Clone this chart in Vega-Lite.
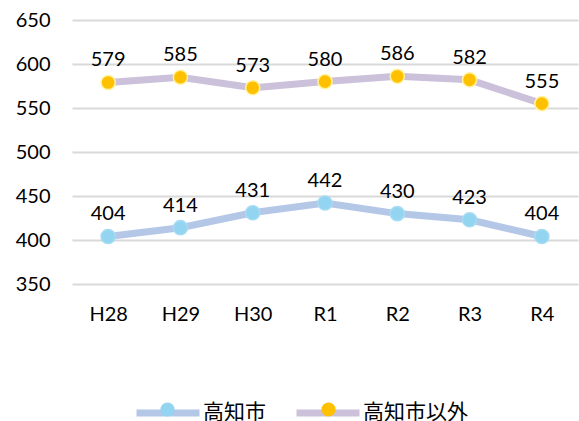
{
  "$schema": "https://vega.github.io/schema/vega-lite/v6.json",
  "width": 506,
  "height": 264,
  "autosize": {"type": "none"},
  "padding": {"left": 72, "top": 20, "right": 1, "bottom": 137},
  "background": "white",
  "config": {"view": {"stroke": null}, "font": "Lato"},
  "data": {"values": [
    {"year": "H28", "series": "高知市", "value": 404},
    {"year": "H29", "series": "高知市", "value": 414},
    {"year": "H30", "series": "高知市", "value": 431},
    {"year": "R1", "series": "高知市", "value": 442},
    {"year": "R2", "series": "高知市", "value": 430},
    {"year": "R3", "series": "高知市", "value": 423},
    {"year": "R4", "series": "高知市", "value": 404},
    {"year": "H28", "series": "高知市以外", "value": 579},
    {"year": "H29", "series": "高知市以外", "value": 585},
    {"year": "H30", "series": "高知市以外", "value": 573},
    {"year": "R1", "series": "高知市以外", "value": 580},
    {"year": "R2", "series": "高知市以外", "value": 586},
    {"year": "R3", "series": "高知市以外", "value": 582},
    {"year": "R4", "series": "高知市以外", "value": 555}
  ]},
  "encoding": {
    "x": {"field": "year", "type": "ordinal", "sort": ["H28", "H29", "H30", "R1", "R2", "R3", "R4"],
      "scale": {"type": "point", "padding": 0.5},
      "axis": {"title": null, "labelAngle": 0, "domain": false, "ticks": false, "grid": false, "labelFontSize": 20, "labelColor": "#000000", "labelPadding": 20}},
    "y": {"field": "value", "type": "quantitative",
      "scale": {"domain": [350, 650], "nice": false, "zero": false},
      "axis": {"title": null, "values": [350, 400, 450, 500, 550, 600, 650], "domain": false, "ticks": false, "labelFontSize": 20, "labelColor": "#000000", "labelPadding": 22, "gridColor": "#d9d9d9", "gridWidth": 2}}
  },
  "layer": [
    {
      "mark": {"type": "line", "strokeWidth": 7},
      "encoding": {
        "stroke": {"field": "series", "type": "nominal",
          "scale": {"domain": ["高知市", "高知市以外"], "range": ["#B4C7E7", "#CCC1DA"]},
          "legend": {"title": null, "orient": "none", "direction": "horizontal", "legendX": 61, "legendY": 358,
            "gridAlign": "none", "symbolType": "stroke", "symbolSize": 3969, "symbolStrokeWidth": 7, "labelFont": "Noto Sans CJK JP", "labelFontSize": 21, "labelColor": "#000000", "labelOffset": 0, "columnPadding": 16}}
      }
    },
    {
      "mark": {"type": "point", "filled": true, "size": 200, "strokeWidth": 1.5, "opacity": 1},
      "encoding": {
        "fill": {"field": "series", "type": "nominal",
          "scale": {"range": ["#93D4F0", "#FFC000"]},
          "legend": {"title": null, "orient": "none", "direction": "horizontal", "legendX": 61, "legendY": 379,
            "gridAlign": "none", "symbolType": "circle", "symbolSize": 200, "symbolStrokeWidth": 0, "symbolOpacity": 1, "symbolOffset": 24, "labelExpr": "''", "labelFontSize": 21, "labelOffset": 49, "columnPadding": 67}},
        "stroke": {"field": "series", "type": "nominal",
          "scale": {"range": ["#A6DCF3", "#FFF2A0"]}, "legend": null}
      }
    },
    {
      "mark": {"type": "text", "dy": -22, "fontSize": 20, "color": "#000000", "baseline": "middle"},
      "encoding": {"text": {"field": "value", "type": "quantitative"}}
    }
  ],
  "resolve": {"scale": {"stroke": "independent", "fill": "independent"}}
}
